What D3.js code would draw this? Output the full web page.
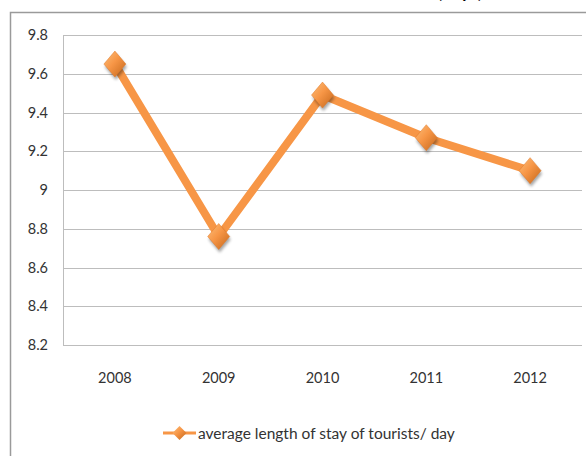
<!DOCTYPE html>
<html>
<head>
<meta charset="utf-8">
<script src="https://cdn.jsdelivr.net/npm/d3@7"></script>
<style>
  body { margin: 0; background: #fff; overflow: hidden; }
  svg { display: block; font-family: Lato, "Open Sans", sans-serif; }
</style>
</head>
<body>
<div id="viz"></div>
<script>
// ── DATA ────────────────────────────────────────────────────────────────────
const years = ["2008", "2009", "2010", "2011", "2012"];
const stayDays = [9.65, 8.76, 9.49, 9.27, 9.10];
const yTicks = [8.2, 8.4, 8.6, 8.8, 9, 9.2, 9.4, 9.6, 9.8];
const seriesName = "average length of stay of tourists/ day";

// ── SETTINGS ────────────────────────────────────────────────────────────────
const width = 586, height = 456;
const svg = d3.select("#viz").append("svg")
    .attr("width", width)
    .attr("height", height);

const orange = "#f79646";

const defs = svg.append("defs");
const grad = defs.append("linearGradient")
    .attr("id", "dia").attr("x1", 0).attr("y1", 0).attr("x2", 1).attr("y2", 1);
grad.append("stop").attr("offset", "0%").attr("stop-color", "#fbbf7c");
grad.append("stop").attr("offset", "45%").attr("stop-color", "#f79646");
grad.append("stop").attr("offset", "100%").attr("stop-color", "#c4661a");
const blur = defs.append("filter").attr("id", "shadow")
    .attr("x", "-50%").attr("y", "-50%").attr("width", "200%").attr("height", "200%");
blur.append("feGaussianBlur").attr("stdDeviation", 1.5);

// title, cut off by the top edge as in the source image
svg.append("text")
    .attr("x", 460).attr("y", -2)
    .attr("text-anchor", "middle")
    .attr("font-size", 18).attr("font-weight", "bold")
    .attr("fill", "#000")
    .text("(days)");

// outer chart border (continues past the right and bottom edges)
svg.append("path")
    .attr("d", "M10.5,470V12.5H700")
    .attr("fill", "none")
    .attr("stroke", "#9a9a9a")
    .attr("stroke-width", 1.5);

// ── SCALES ──────────────────────────────────────────────────────────────────
const x = d3.scaleBand().domain(years).range([63, 582]);
const y = d3.scaleLinear().domain([8.2, 9.8]).range([345, 35]);

// grid lines
svg.append("g")
  .selectAll("line")
  .data(yTicks)
  .join("line")
    .attr("x1", 63).attr("x2", 582)
    .attr("y1", d => Math.round(y(d)) + 0.5)
    .attr("y2", d => Math.round(y(d)) + 0.5)
    .attr("stroke", "#bdbdbd")
    .attr("stroke-width", 1);

// y axis line
svg.append("line")
    .attr("x1", 63.5).attr("x2", 63.5)
    .attr("y1", y(9.8)).attr("y2", y(8.2))
    .attr("stroke", "#bdbdbd");

// y tick labels
svg.append("g")
  .selectAll("text")
  .data(yTicks)
  .join("text")
    .attr("x", 48)
    .attr("y", d => y(d) + 5)
    .attr("text-anchor", "end")
    .attr("font-size", 14.5)
    .attr("fill", "#333")
    .text(d => d3.format("")(d));

// x labels
svg.append("g")
  .selectAll("text")
  .data(years)
  .join("text")
    .attr("x", d => x(d) + x.bandwidth() / 2)
    .attr("y", 383)
    .attr("text-anchor", "middle")
    .attr("font-size", 14.5)
    .attr("fill", "#333")
    .text(d => d);

// ── LINE ────────────────────────────────────────────────────────────────────
const pts = years.map((yr, i) => [x(yr) + x.bandwidth() / 2, y(stayDays[i])]);

svg.append("path")
    .attr("d", d3.line()(pts))
    .attr("fill", "none")
    .attr("stroke", orange)
    .attr("stroke-width", 8)
    .attr("stroke-linejoin", "round");

const diamond = (cx, cy, rx, ry) => `M${cx},${cy - ry}L${cx + rx},${cy}L${cx},${cy + ry}L${cx - rx},${cy}Z`;

const markers = svg.append("g");
markers.selectAll("path.shadow")
  .data(pts)
  .join("path")
    .attr("class", "shadow")
    .attr("d", d => diamond(d[0] + 1, d[1] + 3, 11, 13))
    .attr("fill", "#000")
    .attr("opacity", 0.35)
    .attr("filter", "url(#shadow)");
markers.selectAll("path.mark")
  .data(pts)
  .join("path")
    .attr("class", "mark")
    .attr("d", d => diamond(d[0], d[1], 11, 13))
    .attr("fill", "url(#dia)")
    .attr("stroke", "#e07b2a")
    .attr("stroke-width", 0.5);

// ── LEGEND ──────────────────────────────────────────────────────────────────
const lg = svg.append("g").attr("transform", "translate(163,433)");
lg.append("line")
    .attr("x1", 0).attr("x2", 33)
    .attr("stroke", orange).attr("stroke-width", 3);
lg.append("path")
    .attr("d", diamond(16.5, 0, 7, 7))
    .attr("fill", "url(#dia)");
lg.append("text")
    .attr("x", 35).attr("y", 5.5)
    .attr("font-size", 15.5)
    .attr("fill", "#333")
    .text(seriesName);
</script>
</body>
</html>
